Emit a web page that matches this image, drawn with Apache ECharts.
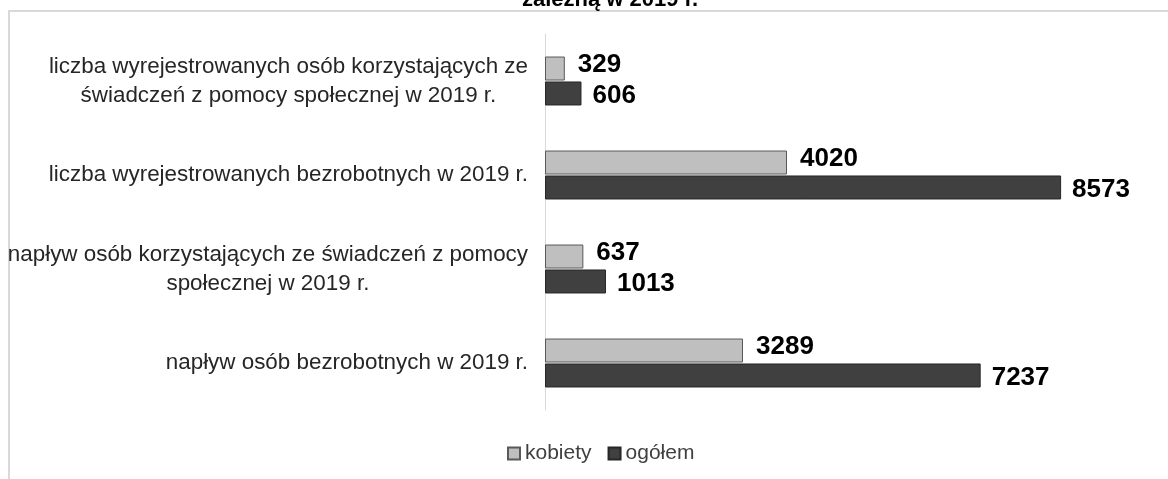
<!DOCTYPE html>
<html>
<head>
<meta charset="utf-8">
<script src="https://cdn.jsdelivr.net/npm/echarts@6/dist/echarts.min.js"></script>
<style>html,body{margin:0;padding:0;background:#fff;}#c{width:1168px;height:479px;}</style>
</head>
<body>
<div id="c"></div>
<script>
const titleText = 'zależną w 2019 r.';
const categories = [
  'liczba wyrejestrowanych osób korzystających ze\nświadczeń z pomocy społecznej w 2019 r.',
  'liczba wyrejestrowanych bezrobotnych w 2019 r.',
  'napływ osób korzystających ze świadczeń z pomocy\nspołecznej w 2019 r.',
  'napływ osób bezrobotnych w 2019 r.'
];
const seriesNames = ['kobiety', 'ogółem'];
const kobiety = [329, 4020, 637, 3289];
const ogolem = [606, 8573, 1013, 7237];

const chart = echarts.init(document.getElementById('c'));
const FONT = '"Liberation Sans", Arial, sans-serif';
chart.setOption({
  animation: false,
  backgroundColor: '#fff',
  graphic: [{
    type: 'rect', z: -10, silent: true,
    shape: {x: 9, y: 11, width: 1200, height: 520},
    style: {fill: 'none', stroke: '#d9d9d9', lineWidth: 2}
  }],
  title: {
    text: titleText, left: 517, top: -16,
    textStyle: {fontFamily: FONT, fontSize: 22, fontWeight: 'bold', color: '#000'}
  },
  legend: {
    data: seriesNames, bottom: 10, left: 502, icon: 'rect',
    itemWidth: 12, itemHeight: 12, itemGap: 16,
    textStyle: {fontFamily: FONT, fontSize: 21, color: '#404040'}
  },
  grid: {left: 545, right: 21, top: 34, bottom: 69, containLabel: false, outerBoundsMode: 'none'},
  xAxis: {type: 'value', min: 0, max: 10000, show: false},
  yAxis: {
    type: 'category', data: categories, inverse: true,
    axisLine: {show: true, lineStyle: {color: '#d9d9d9', width: 1}},
    axisTick: {show: false},
    axisLabel: {
      margin: 17, align: 'right',
      fontFamily: FONT, fontSize: 22.4, color: '#262626', lineHeight: 29,
      formatter: v => v.split('\n').map(s => '{c|' + s + '}').join('\n'),
      rich: {c: {align: 'center', fontFamily: FONT, fontSize: 22.4, color: '#262626', lineHeight: 29}}
    }
  },
  series: [
    {
      name: seriesNames[0], type: 'bar', data: kobiety, barWidth: 24, barGap: '4%',
      itemStyle: {color: '#bfbfbf', borderColor: '#595959', borderWidth: 1},
      label: {show: true, position: 'right', distance: 13, offset: [0, -4],
        fontFamily: FONT, fontSize: 26, fontWeight: 'bold', color: '#000'}
    },
    {
      name: seriesNames[1], type: 'bar', data: ogolem, barWidth: 24,
      itemStyle: {color: '#404040', borderColor: '#262626', borderWidth: 1},
      label: {show: true, position: 'right', distance: 11, offset: [0, 2],
        fontFamily: FONT, fontSize: 26, fontWeight: 'bold', color: '#000'}
    }
  ]
});
</script>
</body>
</html>
